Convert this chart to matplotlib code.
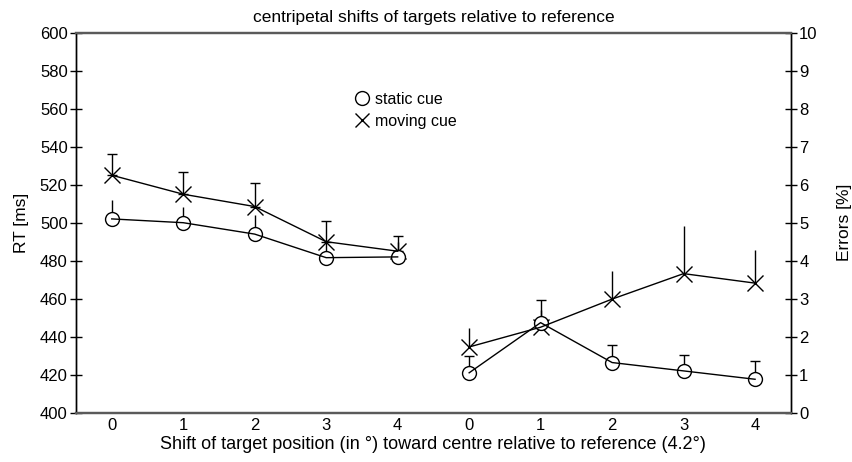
import matplotlib
matplotlib.use("Agg")
import matplotlib.pyplot as plt
from matplotlib.lines import Line2D
import numpy as np

plt.rcParams['font.family'] = ['Liberation Sans', 'DejaVu Sans']

# Shift of target position (deg) toward centre
shifts = [0, 1, 2, 3, 4]
tick_labels = ['0', '1', '2', '3', '4', '0', '1', '2', '3', '4']

# Reaction times (ms) and upper error bars
rt_static = [502, 500, 494, 481.6, 482]
rt_static_se = [10, 8.4, 10, 8, 8]
rt_moving = [525, 515, 508.5, 490, 485]
rt_moving_se = [11, 11.5, 12.5, 11, 8.2]

# Error rates (%) and upper error bars
err_static = [1.05, 2.37, 1.32, 1.10, 0.88]
err_static_se = [0.43, 0.60, 0.47, 0.41, 0.49]
err_moving = [1.73, 2.25, 2.99, 3.66, 3.41]
err_moving_se = [0.50, 0.45, 0.75, 1.25, 0.88]

fig = plt.figure(figsize=(8.53, 4.62), dpi=100)
ax = fig.add_axes([0.0891, 0.1067, 0.838, 0.8225])
ax2 = ax.twinx()

x_rt = np.array(shifts)
x_err = np.array(shifts) + 5

lw = 1.0
ms_o = 10
ms_x = 11


def draw(axis, x, y, se, marker, ms, capsize, face):
    axis.errorbar(x, y, yerr=[np.zeros(len(y)), se], fmt='none',
                  ecolor='black', elinewidth=lw, capsize=capsize,
                  capthick=lw, zorder=2)
    axis.plot(x, y, linestyle='none', marker=marker, ms=ms,
              mfc=face, mec='black', mew=lw, zorder=3)
    axis.plot(x, y, color='black', lw=lw, zorder=4)


# RT (left axis)
draw(ax, x_rt, rt_moving, rt_moving_se, 'x', ms_x, 3.5, 'none')
draw(ax, x_rt, rt_static, rt_static_se, 'o', ms_o, 0, 'white')

# Errors (right axis)
draw(ax2, x_err, err_moving, err_moving_se, 'x', ms_x, 0, 'none')
draw(ax2, x_err, err_static, err_static_se, 'o', ms_o, 3.5, 'white')

ax.set_xlim(-0.5, 9.5)
ax.set_ylim(400, 600)
ax2.set_ylim(0, 10)
ax.set_yticks(np.arange(400, 601, 20))
ax2.set_yticks(np.arange(0, 11, 1))
ax.set_xticks(np.arange(10))
ax.set_xticklabels(tick_labels)

fs = 12
ax.tick_params(axis='x', length=0, labelsize=fs, pad=4)
ax.tick_params(axis='y', direction='inout', length=8, width=1,
               labelsize=fs, pad=2)
ax2.tick_params(axis='y', direction='inout', length=8, width=1,
                labelsize=fs, pad=2)

for a in (ax, ax2):
    a.spines['top'].set_color('#5a5a5a')
    a.spines['bottom'].set_color('#5a5a5a')
    a.spines['top'].set_linewidth(1.6)
    a.spines['bottom'].set_linewidth(1.6)
    a.spines['left'].set_linewidth(1.0)
    a.spines['right'].set_linewidth(1.0)

ax.set_ylabel('RT [ms]', fontsize=12.5, labelpad=8)
ax2.set_ylabel('Errors [%]', fontsize=12.5, rotation=90, labelpad=14)
ax.set_xlabel('Shift of target position (in \u00b0) toward centre relative to reference (4.2\u00b0)',
              fontsize=13, labelpad=2)
ax.set_title('centripetal shifts of targets relative to reference',
             fontsize=12.5, pad=8)

handles = [
    Line2D([], [], linestyle='none', marker='o', ms=10, mfc='white',
           mec='black', mew=1.0),
    Line2D([], [], linestyle='none', marker='x', ms=10, color='black',
           mew=1.0),
]
ax2.legend(handles, ['static cue', 'moving cue'], loc='upper left',
           bbox_to_anchor=(0.38, 0.862), frameon=False, fontsize=11.5,
           handlelength=1.0, handletextpad=0.3, labelspacing=0.45,
           borderaxespad=0)

fig.savefig('out.png', dpi=100)
